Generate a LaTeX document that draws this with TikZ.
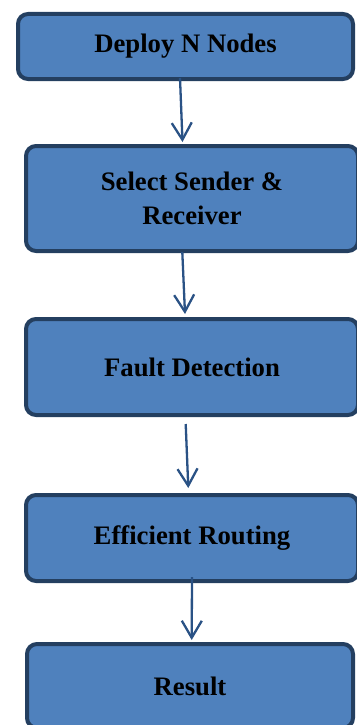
\documentclass[tikz,border=0pt]{standalone}
\usepackage{fontspec}
\setmainfont{Liberation Serif}
\usetikzlibrary{arrows.meta}
\definecolor{boxfill}{HTML}{4F81BD}
\definecolor{boxline}{HTML}{243F60}
\definecolor{arrowcol}{HTML}{2A5285}
\tikzset{
  stepbox/.style={draw=boxline, fill=boxfill, line width=4pt, rounded corners=10pt,
    align=center, font=\fontsize{26.7}{33.3}\selectfont\bfseries, inner sep=0pt},
  flow/.style={->, draw=arrowcol, line width=2.3pt}
}
\begin{document}
\begin{tikzpicture}[>={Straight Barb[length=17pt,width=20pt]}, x=1pt, y=-1pt]
\useasboundingbox (0,0) rectangle (356,725);
\node[stepbox, minimum width=335pt, minimum height=65pt] (deploy) at (185.5,46.5) {Deploy N Nodes};
\node[stepbox, minimum width=332pt, minimum height=105pt] (select) at (192,198.5) {Select Sender \&\\Receiver};
\node[stepbox, minimum width=332pt, minimum height=96pt] (fault) at (192,367) {Fault Detection};
\node[stepbox, minimum width=332pt, minimum height=86pt] (route) at (192,538) {Efficient Routing};
\node[stepbox, minimum width=326pt, minimum height=84pt] (result) at (190,686) {Result};
\draw[flow] ([xshift=-5.5pt,yshift=3pt]deploy.south) -- ([xshift=-9.5pt,yshift=2pt]select.north);
\draw[flow] ([xshift=-9.7pt,yshift=1pt]select.south) -- ([xshift=-7pt,yshift=3pt]fault.north);
\draw[flow] ([xshift=-6.3pt,yshift=-7pt]fault.south) -- ([xshift=-3.7pt,yshift=5pt]route.north);
\draw[flow] ([yshift=6pt]route.south) -- ([xshift=1.7pt,yshift=2pt]result.north);
\end{tikzpicture}
\end{document}
